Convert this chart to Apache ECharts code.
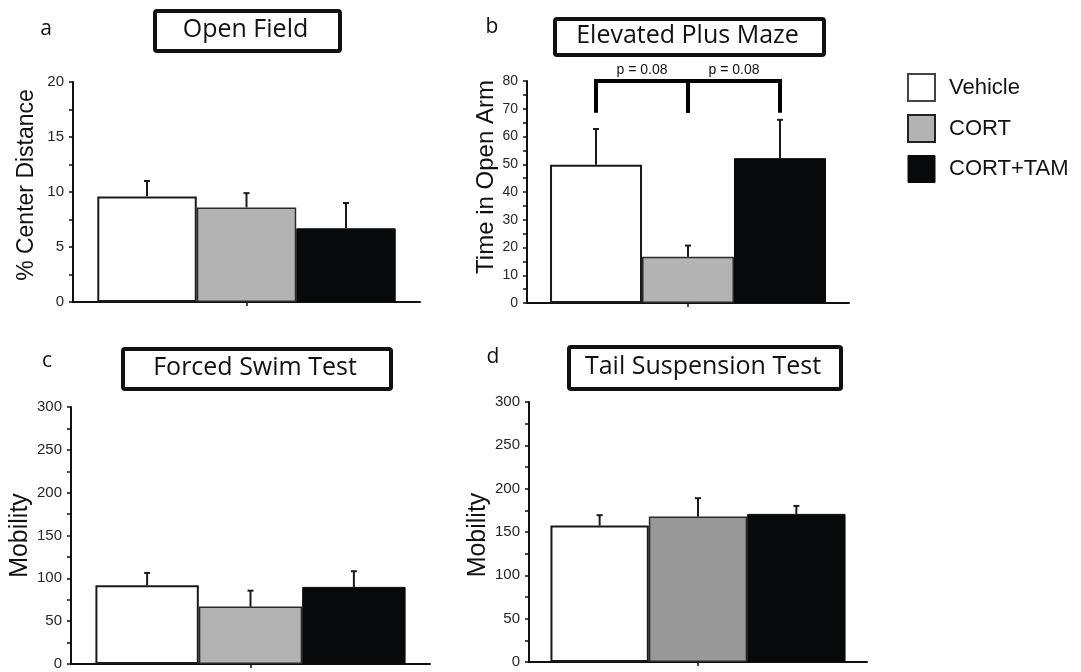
<!DOCTYPE html>
<html>
<head>
<meta charset="utf-8">
<script src="https://cdn.jsdelivr.net/npm/echarts@6/dist/echarts.min.js"></script>
<style>
html,body{margin:0;padding:0;background:#fff;}
#chart{width:1081px;height:672px;}
</style>
</head>
<body>
<div id="chart"></div>
<script>
// ---- data ----
const groups = ['Vehicle', 'CORT', 'CORT+TAM'];
const panelLetters = ['a', 'b', 'c', 'd'];
const panelTitles = ['Open Field', 'Elevated Plus Maze', 'Forced Swim Test', 'Tail Suspension Test'];
const yNames = ['% Center Distance', 'Time in Open Arm', 'Mobility', 'Mobility'];
const yMax = [20, 80, 300, 300];
const yInterval = [5, 10, 50, 50];

const openFieldMean = [9.6, 8.6, 6.7];
const openFieldSem = [1.4, 1.3, 2.3];
const plusMazeMean = [49.8, 16.7, 52.2];
const plusMazeSem = [12.9, 4.0, 13.8];
const swimMean = [92, 67, 90];
const swimSem = [14.3, 18.6, 18.3];
const tailMean = [157.4, 167.8, 170.9];
const tailSem = [12.0, 21.2, 9.2];

// comparisons in Elevated Plus Maze: [from group, to group, label]
const comparisons = [[0, 1, 'p = 0.08'], [1, 2, 'p = 0.08']];
const bracketTop = 80;
const bracketBottom = 68.6;

// ---- styling / layout ----
const means = [openFieldMean, plusMazeMean, swimMean, tailMean];
const sems = [openFieldSem, plusMazeSem, swimSem, tailSem];
const grids = [
  {left: 73, top: 82, width: 347, height: 220},
  {left: 527, top: 81, width: 322, height: 222},
  {left: 71, top: 407, width: 359, height: 257},
  {left: 529, top: 402, width: 338, height: 260}
];
const catGaps = [0.14, 0.143, 0.136, 0.127];
const tickFont = [15, 14, 15, 15];
const nameFont = [23, 24, 25, 25];
const nameGaps = [35, 26, 35, 35];
const namePad = [[0,0,0,14], [0,0,0,30], [0,0,0,0], [0,0,0,-6]];
const grayColors = ['#b3b3b3', '#b3b3b3', '#b3b3b3', '#989898'];
const barStyles = (p) => [
  {color: '#ffffff', borderColor: '#1a1a1a', borderWidth: 2},
  {color: grayColors[p], borderColor: '#2a2a2a', borderWidth: 1.5},
  {color: '#08090b', borderColor: '#08090b', borderWidth: 1}
];
const titleBoxes = [
  {x: 153, y: 9, w: 185, h: 40},
  {x: 553, y: 17, w: 269, h: 36},
  {x: 121, y: 347, w: 268, h: 40},
  {x: 567, y: 345, w: 272, h: 42}
];
const letterPos = [[46, 29], [492, 27], [47, 361], [493, 357]];

function barCenter(api, k, gap) {
  const band = api.size([1, 0])[0];
  const groupW = band * (1 - gap);
  const bw = groupW / 3;
  return api.coord([0, 0])[0] - groupW / 2 + bw * (k + 0.5);
}

const option = {
  animation: false,
  backgroundColor: '#ffffff',
  grid: grids.map(g => Object.assign({containLabel: false}, g)),
  xAxis: grids.map((g, i) => ({
    type: 'category', gridIndex: i, data: [''],
    axisLine: {show: true, lineStyle: {color: '#111', width: 2}},
    axisTick: {show: true, alignWithLabel: true, length: 4, lineStyle: {color: '#111', width: 1.5}},
    axisLabel: {show: false},
    splitLine: {show: false}
  })),
  yAxis: grids.map((g, i) => ({
    type: 'value', gridIndex: i, min: 0, max: yMax[i], interval: yInterval[i],
    name: yNames[i], nameLocation: 'middle', nameGap: nameGaps[i],
    nameTextStyle: {fontFamily: 'Liberation Sans', fontSize: nameFont[i], color: '#111', padding: namePad[i]},
    axisLine: {show: true, lineStyle: {color: '#111', width: 2}},
    axisTick: {show: true, length: 4, lineStyle: {color: '#111', width: 1.5}},
    minorTick: {show: true, splitNumber: 2, length: 4, lineStyle: {color: '#111', width: 1.5}},
    splitLine: {show: false},
    minorSplitLine: {show: false},
    axisLabel: {fontFamily: 'Liberation Sans', fontSize: tickFont[i], color: '#262626', margin: 9}
  })),
  legend: {
    orient: 'vertical', left: 902, top: 68,
    itemWidth: 27, itemHeight: 27, itemGap: 12, icon: 'rect',
    textStyle: {fontFamily: 'Liberation Sans', fontSize: 22, color: '#111', padding: [0, 0, 0, 9]},
    data: [
      {name: groups[0], itemStyle: {color: '#ffffff', borderColor: '#444', borderWidth: 2}},
      {name: groups[1], itemStyle: {color: '#b3b3b3', borderColor: '#222', borderWidth: 2}},
      {name: groups[2], itemStyle: {color: '#08090b', borderColor: '#08090b', borderWidth: 1}}
    ],
    selectedMode: false
  },
  graphic: [],
  series: []
};

// bars
for (let p = 0; p < 4; p++) {
  const st = barStyles(p);
  for (let k = 0; k < 3; k++) {
    option.series.push({
      type: 'bar', name: groups[k], xAxisIndex: p, yAxisIndex: p,
      data: [means[p][k]], barGap: '0%', barCategoryGap: (catGaps[p] * 100) + '%',
      itemStyle: st[k], z: 2, silent: true
    });
  }
  // error bars
  option.series.push({
    type: 'custom', xAxisIndex: p, yAxisIndex: p, z: 3, silent: true,
    data: means[p].map((m, k) => [0, m, sems[p][k], k]),
    renderItem: (function (gap) {
      return function (params, api) {
        const k = api.value(3);
        const cx = barCenter(api, k, gap);
        const y0 = api.coord([0, api.value(1)])[1];
        const y1 = api.coord([0, api.value(1) + api.value(2)])[1];
        const s = {stroke: '#1a1a1a', lineWidth: 2};
        return {type: 'group', children: [
          {type: 'line', shape: {x1: cx, y1: y0, x2: cx, y2: y1}, style: s},
          {type: 'line', shape: {x1: cx - 3, y1: y1, x2: cx + 3, y2: y1}, style: s}
        ]};
      };
    })(catGaps[p])
  });
}

// significance brackets on panel b
option.series.push({
  type: 'custom', xAxisIndex: 1, yAxisIndex: 1, z: 4, silent: true, clip: false,
  data: comparisons.map(c => [0, c[0], c[1], bracketTop, bracketBottom]),
  renderItem: function (params, api) {
    const gap = catGaps[1];
    const xa = barCenter(api, api.value(1), gap);
    const xb = barCenter(api, api.value(2), gap);
    const yt = api.coord([0, api.value(3)])[1];
    const yb = api.coord([0, api.value(4)])[1];
    return {type: 'group', children: [
      {type: 'polyline', shape: {points: [[xa, yb], [xa, yt], [xb, yt], [xb, yb]]},
       style: {stroke: '#000', lineWidth: 4, fill: null, lineJoin: 'miter'}},
      {type: 'text', style: {text: comparisons[params.dataIndex][2], x: (xa + xb) / 2, y: yt - 11,
        textAlign: 'center', textVerticalAlign: 'middle', font: '14px "Liberation Sans"', fill: '#111'}}
    ]};
  }
});

// title boxes and panel letters
for (let p = 0; p < 4; p++) {
  const b = titleBoxes[p];
  option.graphic.push({
    type: 'rect', left: b.x, top: b.y, shape: {width: b.w, height: b.h, r: 2},
    style: {fill: '#fff', stroke: '#111', lineWidth: 4}, silent: true
  });
  option.graphic.push({
    type: 'text', x: b.x + b.w / 2, y: b.y + b.h / 2 + 1,
    style: {text: panelTitles[p], textAlign: 'center', textVerticalAlign: 'middle',
      font: '25px "Open Sans"', fill: '#111'}, silent: true
  });
  option.graphic.push({
    type: 'text', x: letterPos[p][0], y: letterPos[p][1],
    style: {text: panelLetters[p], textAlign: 'center', textVerticalAlign: 'middle',
      font: '21px "Open Sans"', fill: '#111'}, silent: true
  });
}

const chart = echarts.init(document.getElementById('chart'), null, {renderer: 'canvas'});
chart.setOption(option);
</script>
</body>
</html>
